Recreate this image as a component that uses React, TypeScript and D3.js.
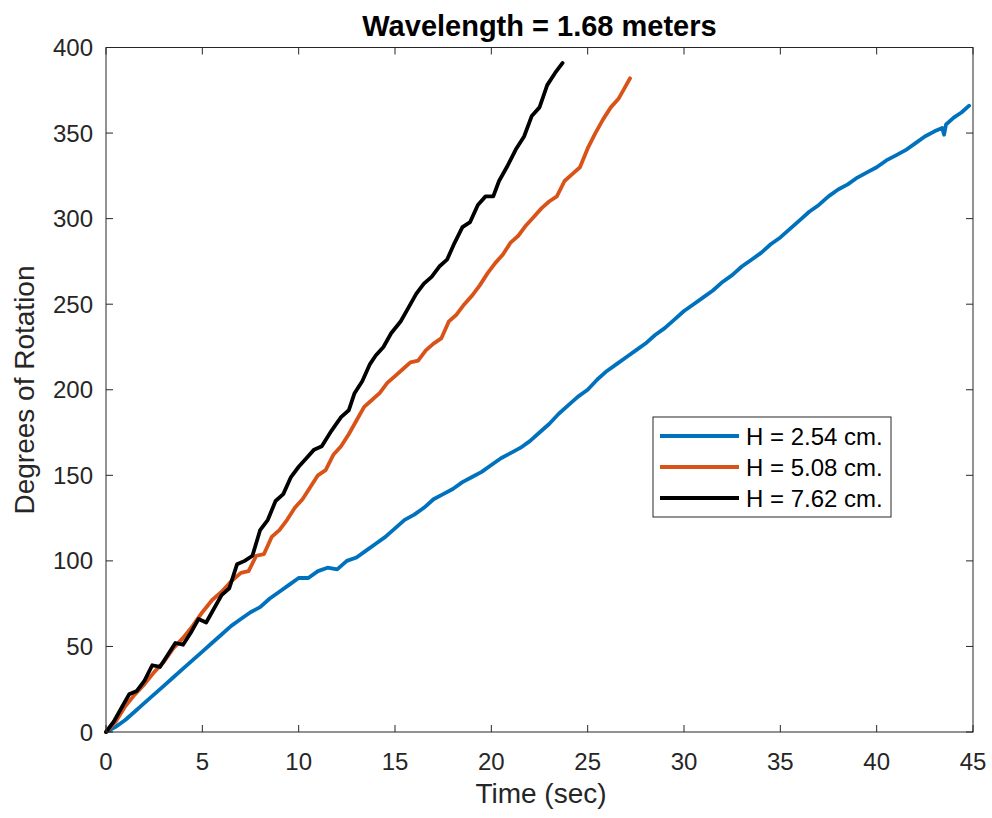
import React from "react";
import * as d3 from "d3";

const xTicks = [0, 5, 10, 15, 20, 25, 30, 35, 40, 45];
const yTicks = [0, 50, 100, 150, 200, 250, 300, 350, 400];
const seriesNames = ["H = 2.54 cm.", "H = 5.08 cm.", "H = 7.62 cm."];
const seriesColors = ["#0072BD", "#D95319", "#000000"];

const blueT = [0,0.5,1,1.5,2,2.5,3,3.5,4,4.5,5,5.5,6,6.5,7,7.5,8,8.5,9,9.5,10,10.5,11,11.5,12,12.5,13,13.5,14,14.5,15,15.5,16,16.5,17,17.5,18,18.5,19,19.5,20,20.5,21,21.5,22,22.5,23,23.5,24,24.5,25,25.5,26,26.5,27,27.5,28,28.5,29,29.5,30,30.5,31,31.5,32,32.5,33,33.5,34,34.5,35,35.5,36,36.5,37,37.5,38,38.5,39,39.5,40,40.5,41,41.5,42,42.5,43,43.4,43.5,43.6,44,44.4,44.8];
const blueV = [0,3,7,12,17,22,27,32,37,42,47,52,57,62,66,70,73,78,82,86,90,90,94,96,95,100,102,106,110,114,119,124,127,131,136,139,142,146,149,152,156,160,163,166,170,175,180,186,191,196,200,206,211,215,219,223,227,232,236,241,246,250,254,258,263,267,272,276,280,285,289,294,299,304,308,313,317,320,324,327,330,334,337,340,344,348,351,353,349,355,359,362,366];

const orangeT = [0,0.5,1,1.5,2,2.5,3,3.5,4,4.5,5,5.5,6,6.5,7,7.4,7.8,8.2,8.6,9,9.4,9.8,10.2,10.6,11,11.4,11.8,12.2,12.6,13,13.4,13.8,14.2,14.6,15,15.4,15.8,16.2,16.6,17,17.4,17.8,18.2,18.6,19,19.4,19.8,20.2,20.6,21,21.4,21.8,22.2,22.6,23,23.4,23.8,24.2,24.6,25,25.4,25.8,26.2,26.6,27,27.2];
const orangeV = [0,6,15,22,28,35,41,49,55,62,70,77,82,88,93,94,103,104,114,118,124,131,136,143,150,153,162,167,174,182,190,194,198,204,208,212,216,217,223,227,230,240,244,250,255,261,268,274,279,286,290,296,301,306,310,313,322,326,330,341,350,358,365,370,378,382];

const blackT = [0,0.4,0.8,1.2,1.6,2,2.4,2.8,3.2,3.6,4,4.4,4.8,5.2,5.6,6,6.4,6.8,7.2,7.6,8,8.4,8.8,9.2,9.6,10,10.4,10.8,11.2,11.7,12.2,12.6,12.9,13.3,13.7,14,14.4,14.8,15.3,15.7,16.1,16.5,16.9,17.3,17.7,18.1,18.5,18.9,19.3,19.7,20.1,20.4,20.8,21.3,21.7,22.1,22.5,22.9,23.3,23.7];
const blackV = [0,6,14,22,24,30,39,38,45,52,51,58,66,64,72,80,84,98,100,103,118,124,135,139,149,155,160,165,167,176,184,188,198,205,215,220,225,233,240,248,256,262,266,272,276,286,295,298,308,313,313,322,330,341,348,360,365,378,385,391];

const W = 992, H = 818;
const left = 106, right = 973, top = 47.5, bottom = 732;
const fontFam = "'Liberation Sans', Arial, Helvetica, sans-serif";
const axisColor = "#262626";

export default function App() {
  const x = d3.scaleLinear().domain([0, 45]).range([left, right]);
  const y = d3.scaleLinear().domain([0, 400]).range([bottom, top]);
  const line = d3.line<[number, number]>().x(d => x(d[0])).y(d => y(d[1]));
  const series = [
    blueT.map((t, i) => [t, blueV[i]] as [number, number]),
    orangeT.map((t, i) => [t, orangeV[i]] as [number, number]),
    blackT.map((t, i) => [t, blackV[i]] as [number, number]),
  ];
  const tl = 7;
  const legX = 653, legY = 417, legW = 238, legH = 100;
  const rowY = [436, 467, 498];

  return (
    <svg width={W} height={H} style={{ position: "absolute", left: 0, top: 0, background: "#fff" }} fontFamily={fontFam}>
      <rect x={0} y={0} width={W} height={H} fill="#fff" />
      {/* series */}
      <g clipPath="url(#clip)">
        {series.map((s, i) => (
          <path key={i} d={line(s) || ""} fill="none" stroke={seriesColors[i]} strokeWidth={3.8} strokeLinejoin="round" strokeLinecap="round" />
        ))}
      </g>
      {/* box */}
      <rect x={left} y={top} width={right - left} height={bottom - top} fill="none" stroke={axisColor} strokeWidth={1} />
      {xTicks.map(t => (
        <g key={"x" + t}>
          <line x1={x(t)} x2={x(t)} y1={bottom} y2={bottom - tl} stroke={axisColor} />
          <line x1={x(t)} x2={x(t)} y1={top} y2={top + tl} stroke={axisColor} />
          <text x={x(t)} y={770} textAnchor="middle" fontSize={24} fill={axisColor}>{t}</text>
        </g>
      ))}
      {yTicks.map(v => (
        <g key={"y" + v}>
          <line x1={left} x2={left + tl} y1={y(v)} y2={y(v)} stroke={axisColor} />
          <line x1={right} x2={right - tl} y1={y(v)} y2={y(v)} stroke={axisColor} />
          <text x={93} y={y(v) + 8.5} textAnchor="end" fontSize={24} fill={axisColor}>{v}</text>
        </g>
      ))}
      <text x={541} y={803} textAnchor="middle" fontSize={28} fill={axisColor}>Time (sec)</text>
      <text transform={`translate(34,390) rotate(-90)`} textAnchor="middle" fontSize={28} fill={axisColor}>Degrees of Rotation</text>
      <text x={539.5} y={36} textAnchor="middle" fontSize={29} fontWeight="bold" fill="#000">Wavelength = 1.68 meters</text>
      {/* legend */}
      <rect x={legX} y={legY} width={legW} height={legH} fill="#fff" stroke={axisColor} strokeWidth={1} />
      {seriesNames.map((n, i) => (
        <g key={n}>
          <line x1={660} x2={739} y1={rowY[i]} y2={rowY[i]} stroke={seriesColors[i]} strokeWidth={3.8} />
          <text x={746} y={rowY[i] + 8.5} fontSize={24} fill="#000">{n}</text>
        </g>
      ))}
      <defs>
        <clipPath id="clip">
          <rect x={left - 3} y={top} width={right - left + 3} height={bottom - top + 3} />
        </clipPath>
      </defs>
    </svg>
  );
}
